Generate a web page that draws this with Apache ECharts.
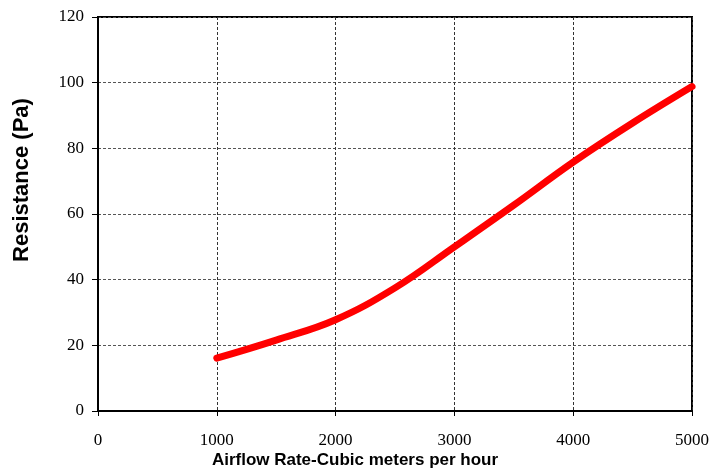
<!DOCTYPE html>
<html><head><meta charset="utf-8">
<script src="https://cdn.jsdelivr.net/npm/echarts@6/dist/echarts.min.js"></script>
<style>html,body{margin:0;padding:0;background:#fff}#c{width:710px;height:468px}</style>
</head><body><div id="c"></div>
<script>
const flow = [1000, 1500, 2000, 2500, 3000, 3500, 4000, 4500, 5000];
const resistance = [16.1, 21.6, 27.8, 37.5, 50.0, 62.7, 75.8, 87.7, 98.8];
const xTicks = [0, 1000, 2000, 3000, 4000, 5000];
const yTicks = [0, 20, 40, 60, 80, 100, 120];
const xTitle = 'Airflow Rate-Cubic meters per hour';
const yTitle = 'Resistance (Pa)';

const chart = echarts.init(document.getElementById('c'));
chart.setOption({
  animation: false,
  backgroundColor: '#fff',
  grid: { left: 98, right: 18, top: 17, bottom: 57, containLabel: false, outerBoundsMode: 'none',
          show: true, borderColor: '#000', borderWidth: 2, backgroundColor: 'transparent' },
  graphic: [{
    type: 'text', x: 22, y: 180, rotation: Math.PI / 2,
    style: { text: yTitle, fontFamily: 'Liberation Sans', fontWeight: 'bold', fontSize: 22, fill: '#000',
             align: 'center', verticalAlign: 'middle' }
  }, {
    type: 'text', x: 355, y: 460,
    style: { text: xTitle, fontFamily: 'Liberation Sans', fontWeight: 'bold', fontSize: 17, fill: '#000',
             align: 'center', verticalAlign: 'middle' }
  }],
  xAxis: {
    type: 'value', min: xTicks[0], max: xTicks[xTicks.length-1], interval: 1000,
    axisLine: { lineStyle: { color: '#000', width: 2 } },
    axisTick: { show: true, length: 5, lineStyle: { color: '#000' } },
    axisLabel: { fontFamily: 'Liberation Serif', fontSize: 17, color: '#000', margin: 21, formatter: v => String(v) },
    splitLine: { show: true, lineStyle: { color: '#333', type: [3, 2], width: 1 } }
  },
  yAxis: {
    type: 'value', min: yTicks[0], max: yTicks[yTicks.length-1], interval: 20,
    axisLine: { show: true, lineStyle: { color: '#000', width: 2 } },
    axisTick: { show: true, length: 6, lineStyle: { color: '#000' } },
    axisLabel: { fontFamily: 'Liberation Serif', fontSize: 17, color: '#000', margin: 14, formatter: v => String(v) },
    splitLine: { show: true, lineStyle: { color: '#555', type: [3, 2], width: 1 } }
  },
  series: [{
    type: 'line', data: flow.map((x, i) => [x, resistance[i]]),
    smooth: 0.4, symbol: 'none',
    lineStyle: { color: '#ff0000', width: 7, cap: 'round' }
  }]
});
</script></body></html>
